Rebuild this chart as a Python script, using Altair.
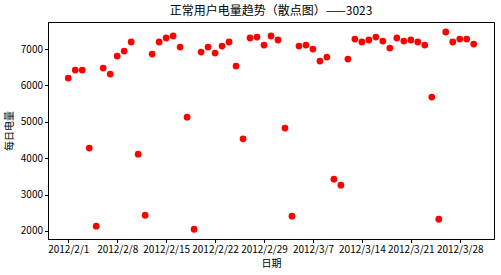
import altair as alt
import pandas as pd
from datetime import datetime, timedelta, timezone

start_date = "2012-02-01"
n_days = 59
values = [6202, 6422, 6422, 4280, 2131, 6477, 6312, 6807, 6945, 7193,
          4111, 2433, 6862, 7193, 7303, 7358, 7055, 5129, 2048, 6917,
          7055, 6890, 7083, 7193, 6532, 4532, 7303, 7330, 7110, 7358,
          7248, 4827, 2406, 7083, 7110, 7000, 6670, 6780, 3424, 3259,
          6725, 7275, 7193, 7248, 7330, 7220, 7028, 7303, 7220, 7248,
          7193, 7110, 5680, 2323, 7468, 7193, 7275, 7275, 7138]
tick_dates = ["2012-02-01", "2012-02-08", "2012-02-15", "2012-02-22", "2012-02-29",
              "2012-03-07", "2012-03-14", "2012-03-21", "2012-03-28"]
y_ticks = [2000, 3000, 4000, 5000, 6000, 7000]

base = datetime(2012, 2, 1, tzinfo=timezone.utc)
dates = [(base + timedelta(days=i)).strftime("%Y-%m-%d") for i in range(n_days)]
df = pd.DataFrame({"日期": dates, "每日电量": values})

def ms(d):
    return int(d.timestamp() * 1000)

dom_lo = ms(base - timedelta(days=2.9))
dom_hi = ms(base + timedelta(days=58 + 2.9))
tick_ms = [ms(datetime.strptime(t, "%Y-%m-%d").replace(tzinfo=timezone.utc)) for t in tick_dates]

font = "Noto Sans CJK SC"

chart = alt.Chart(df).mark_circle(size=46, color="#ff0000", opacity=1).encode(
    x=alt.X("日期:T",
            scale=alt.Scale(type="utc", domain=[dom_lo, dom_hi]),
            axis=alt.Axis(values=tick_ms,
                          labelExpr="utcFormat(datum.value, '%Y/%-m/%-d')",
                          title="日期", grid=False, labelAngle=0)),
    y=alt.Y("每日电量:Q",
            scale=alt.Scale(domain=[1780, 7743], nice=False, zero=False),
            axis=alt.Axis(values=y_ticks, format="d", title="每日电量", grid=False)),
).properties(
    width=446, height=217,
    title=alt.TitleParams("正常用户电量趋势（散点图）——3023", font=font, fontSize=12,
                          fontWeight="normal", color="black", offset=4),
    autosize=alt.AutoSizeParams(type="none"),
    padding={"left": 48, "top": 22, "right": 7, "bottom": 36},
).configure_view(
    stroke="black", strokeWidth=1
).configure_axis(
    domainColor="black", tickColor="black", tickSize=3.5, labelColor="black",
    labelFont=font, labelFontSize=10, titleFont=font, titleFontSize=10,
    titleFontWeight="normal", titleColor="black", labelPadding=2, domainWidth=1,
).configure_axisX(
    titlePadding=4, labelOverlap=False
).configure_axisY(
    titlePadding=6
)

chart.save("out.html", embed_options={"renderer": "svg", "actions": False})
